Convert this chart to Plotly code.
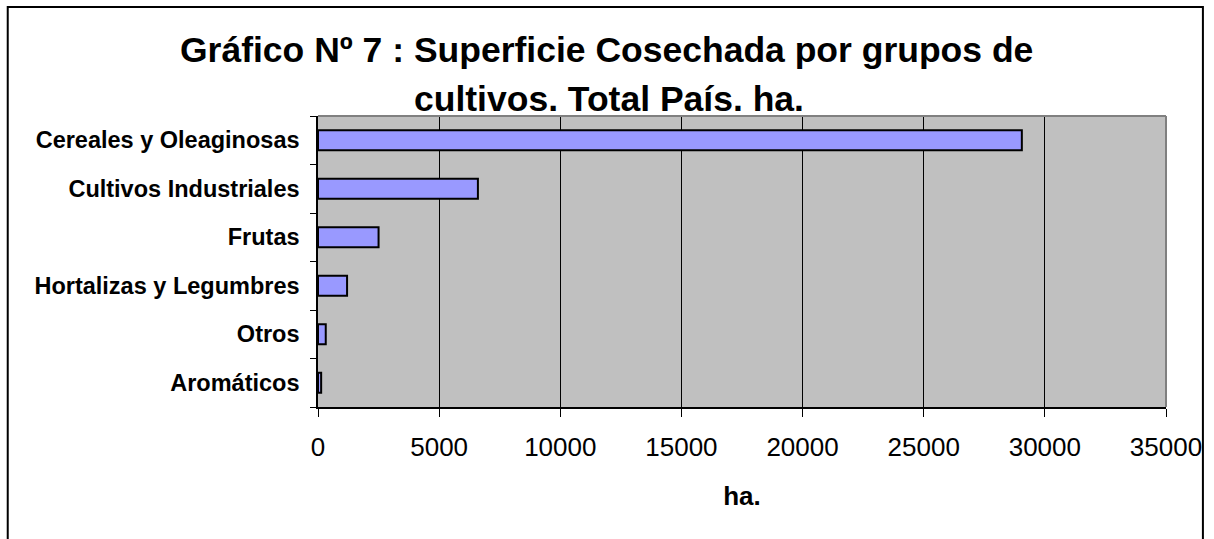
import plotly.graph_objects as go

categories = ["Cereales y Oleaginosas", "Cultivos Industriales", "Frutas",
              "Hortalizas y Legumbres", "Otros", "Aromáticos"]
values = [29050, 6600, 2500, 1200, 320, 130]
x_ticks = [0, 5000, 10000, 15000, 20000, 25000, 30000, 35000]
title_line1 = "Gráfico Nº 7 : Superficie Cosechada por grupos de"
title_line2 = "cultivos. Total País. ha."
x_title = "ha."

W, H = 1214, 539
L, R, T, B = 318, 1168, 116, 407
pw, ph = R - L, B - T

def px_x(p):
    return (p - L) / pw

def px_y(p):
    return (B - p) / ph

fig = go.Figure(go.Bar(
    x=values, y=categories, orientation="h",
    marker=dict(color="#9999FF", line=dict(color="black", width=2)),
    width=0.41,
))

font = "Liberation Sans, Arial, sans-serif"

fig.update_layout(
    width=W, height=H,
    margin=dict(l=L, r=W - R, t=T, b=H - B, pad=0),
    paper_bgcolor="white", plot_bgcolor="#C0C0C0",
    showlegend=False,
    font=dict(family=font, color="black"),
)

fig.update_xaxes(
    range=[0, 35000], tickvals=x_ticks, ticktext=[str(v) for v in x_ticks],
    showgrid=True, gridcolor="black", gridwidth=1,
    showline=True, linecolor="black", linewidth=1.5,
    ticks="outside", ticklen=8, tickcolor="black", tickwidth=1,
    tickfont=dict(size=26, family=font), zeroline=False,
    ticklabelstandoff=8,
    title=dict(text="<b>" + x_title + "</b>", font=dict(size=26, family=font), standoff=26),
)
fig.update_yaxes(
    categoryorder="array", categoryarray=categories, autorange="reversed",
    showgrid=False, showline=True, linecolor="black", linewidth=1.5,
    ticks="outside", ticklen=6, tickcolor="black", tickwidth=1, tickson="boundaries",
    tickfont=dict(size=23.5, family=font),
    tickvals=categories, ticktext=["<b>" + c + "</b>" for c in categories],
    ticklabelstandoff=12,
)

shapes = [
    dict(type="line", xref="paper", yref="paper", x0=0, x1=1, y0=1, y1=1,
         line=dict(color="#808080", width=2)),
    dict(type="line", xref="paper", yref="paper", x0=1, x1=1, y0=0, y1=1,
         line=dict(color="#808080", width=2)),
    dict(type="rect", xref="paper", yref="paper",
         x0=px_x(7), x1=px_x(1205), y0=px_y(560), y1=px_y(7),
         line=dict(color="black", width=2), layer="below"),
]
fig.update_layout(shapes=shapes)

fig.add_annotation(text="<b>" + title_line1 + "</b>", xref="paper", yref="paper",
                   x=px_x(607), y=px_y(50), showarrow=False, xanchor="center", yanchor="middle",
                   font=dict(size=35.5, family=font))
fig.add_annotation(text="<b>" + title_line2 + "</b>", xref="paper", yref="paper",
                   x=px_x(610), y=px_y(99), showarrow=False, xanchor="center", yanchor="middle",
                   font=dict(size=35.5, family=font))

fig.write_html("out.html", config={"displayModeBar": False},
               post_script="document.body.style.margin='0';document.body.style.overflow='hidden';")
